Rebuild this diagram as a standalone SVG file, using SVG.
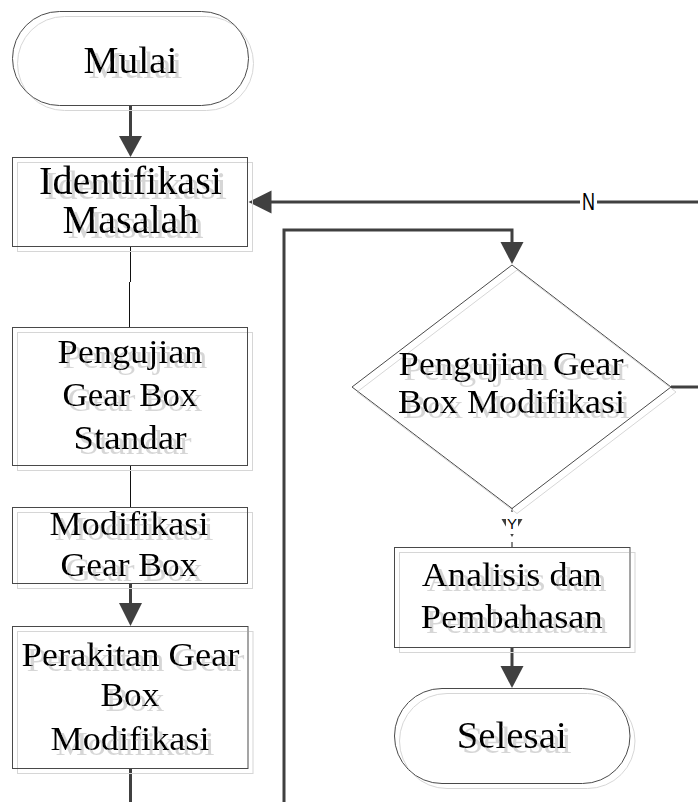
<svg xmlns="http://www.w3.org/2000/svg" width="698" height="802" viewBox="0 0 698 802">
<defs>
<filter id="sh" x="-10%" y="-10%" width="130%" height="130%">
<feOffset in="SourceAlpha" dx="5" dy="5" result="o"/>
<feFlood flood-color="#d6d6d6"/>
<feComposite in2="o" operator="in" result="s"/>
<feMerge><feMergeNode in="s"/><feMergeNode in="SourceGraphic"/></feMerge>
</filter>
</defs>
<style>
.shape{fill:none;stroke:#4a4a4a;stroke-width:1}
.t{font-family:"Liberation Serif","Times New Roman",serif;fill:#000;text-anchor:middle}
.thick{fill:none;stroke:#404040;stroke-width:3}
.thin{fill:none;stroke:#111;stroke-width:1}
.head{fill:#404040;stroke:none}
.lbl{font-family:"Liberation Sans",Arial,sans-serif;fill:#000;text-anchor:middle}
</style>
<rect width="698" height="802" fill="#fff"/>

<g id="connectors">
<line class="thick" x1="130.5" y1="105" x2="130.5" y2="138"/>
<polygon class="head" points="119,136 142,136 130.5,157"/>
<line class="thin" x1="130.5" y1="247" x2="130.5" y2="282"/>
<line class="thin" x1="129.5" y1="282" x2="129.5" y2="327"/>
<line class="thin" x1="130.5" y1="466" x2="130.5" y2="507"/>
<line class="thick" x1="130.5" y1="584" x2="130.5" y2="605"/>
<polygon class="head" points="119,603 142,603 130.5,626"/>
<line class="thick" x1="130.5" y1="769" x2="130.5" y2="802"/>
<polyline class="thick" points="284,802 284,230 512,230 512,244"/>
<polygon class="head" points="500.5,242 523.5,242 512,264"/>
<line class="thick" x1="671" y1="387" x2="698" y2="387"/>
<line class="thick" x1="698" y1="202" x2="597" y2="202"/>
<line class="thick" x1="580" y1="202" x2="270" y2="202"/>
<polygon class="head" points="271.5,190.5 271.5,213.5 248.5,202"/>
<text class="lbl" x="588.5" y="210" font-size="24" textLength="13" lengthAdjust="spacingAndGlyphs">N</text>
<line class="thin" x1="512" y1="508" x2="512" y2="512"/>
<polygon class="head" points="501.5,519 522.5,519 512,537"/>
<rect x="506" y="513" width="12" height="21" fill="#fff"/>
<line class="thin" x1="512" y1="542" x2="512" y2="547"/>
<text class="lbl" x="512" y="528.5" font-size="15">Y</text>
<line class="thick" x1="512" y1="648" x2="512" y2="668"/>
<polygon class="head" points="500.5,666 523.5,666 512,688"/>
</g>

<g id="mulai" filter="url(#sh)">
<rect class="shape" x="12.5" y="11.5" width="236" height="94" rx="47" ry="47"/>
<text class="t" x="130.5" y="73" font-size="38" textLength="94" lengthAdjust="spacingAndGlyphs">Mulai</text>
</g>

<g id="identifikasi" filter="url(#sh)">
<rect class="shape" x="12.5" y="157.5" width="235" height="89"/>
<text class="t" x="130.5" y="194" font-size="39" textLength="183" lengthAdjust="spacingAndGlyphs">Identifikasi</text>
<text class="t" x="130.5" y="233" font-size="39" textLength="136" lengthAdjust="spacingAndGlyphs">Masalah</text>
</g>

<g id="pengujian-standar" filter="url(#sh)">
<rect class="shape" x="12.5" y="327.5" width="235" height="138"/>
<text class="t" x="130" y="363" font-size="34" textLength="145" lengthAdjust="spacingAndGlyphs">Pengujian</text>
<text class="t" x="130" y="406" font-size="34" textLength="135" lengthAdjust="spacingAndGlyphs">Gear Box</text>
<text class="t" x="130" y="449" font-size="34" textLength="113" lengthAdjust="spacingAndGlyphs">Standar</text>
</g>

<g id="modifikasi" filter="url(#sh)">
<rect class="shape" x="12.5" y="507.5" width="235" height="76"/>
<text class="t" x="129" y="535" font-size="34" textLength="159" lengthAdjust="spacingAndGlyphs">Modifikasi</text>
<text class="t" x="129" y="576" font-size="34" textLength="137" lengthAdjust="spacingAndGlyphs">Gear Box</text>
</g>

<g id="perakitan" filter="url(#sh)">
<rect class="shape" x="12.5" y="626.5" width="235.5" height="142"/>
<text class="t" x="130.5" y="666" font-size="34" textLength="218" lengthAdjust="spacingAndGlyphs">Perakitan Gear</text>
<text class="t" x="130" y="706" font-size="34" textLength="59" lengthAdjust="spacingAndGlyphs">Box</text>
<text class="t" x="130" y="750" font-size="34" textLength="159" lengthAdjust="spacingAndGlyphs">Modifikasi</text>
</g>

<g id="pengujian-modifikasi" filter="url(#sh)">
<polygon class="shape" points="512,265 671,387 512,508.5 352,387"/>
<text class="t" x="511" y="375" font-size="34" textLength="225" lengthAdjust="spacingAndGlyphs">Pengujian Gear</text>
<text class="t" x="511.5" y="413" font-size="34" textLength="227" lengthAdjust="spacingAndGlyphs">Box Modifikasi</text>
</g>

<g id="analisis" filter="url(#sh)">
<rect class="shape" x="394.5" y="547.5" width="235.5" height="100"/>
<text class="t" x="511.7" y="586" font-size="34" textLength="180" lengthAdjust="spacingAndGlyphs">Analisis dan</text>
<text class="t" x="511.7" y="628" font-size="34" textLength="182" lengthAdjust="spacingAndGlyphs">Pembahasan</text>
</g>

<g id="selesai" filter="url(#sh)">
<rect class="shape" x="394.5" y="688.5" width="235.5" height="95" rx="47.5" ry="47.5"/>
<text class="t" x="511.7" y="748" font-size="38" textLength="110" lengthAdjust="spacingAndGlyphs">Selesai</text>
</g>
</svg>
